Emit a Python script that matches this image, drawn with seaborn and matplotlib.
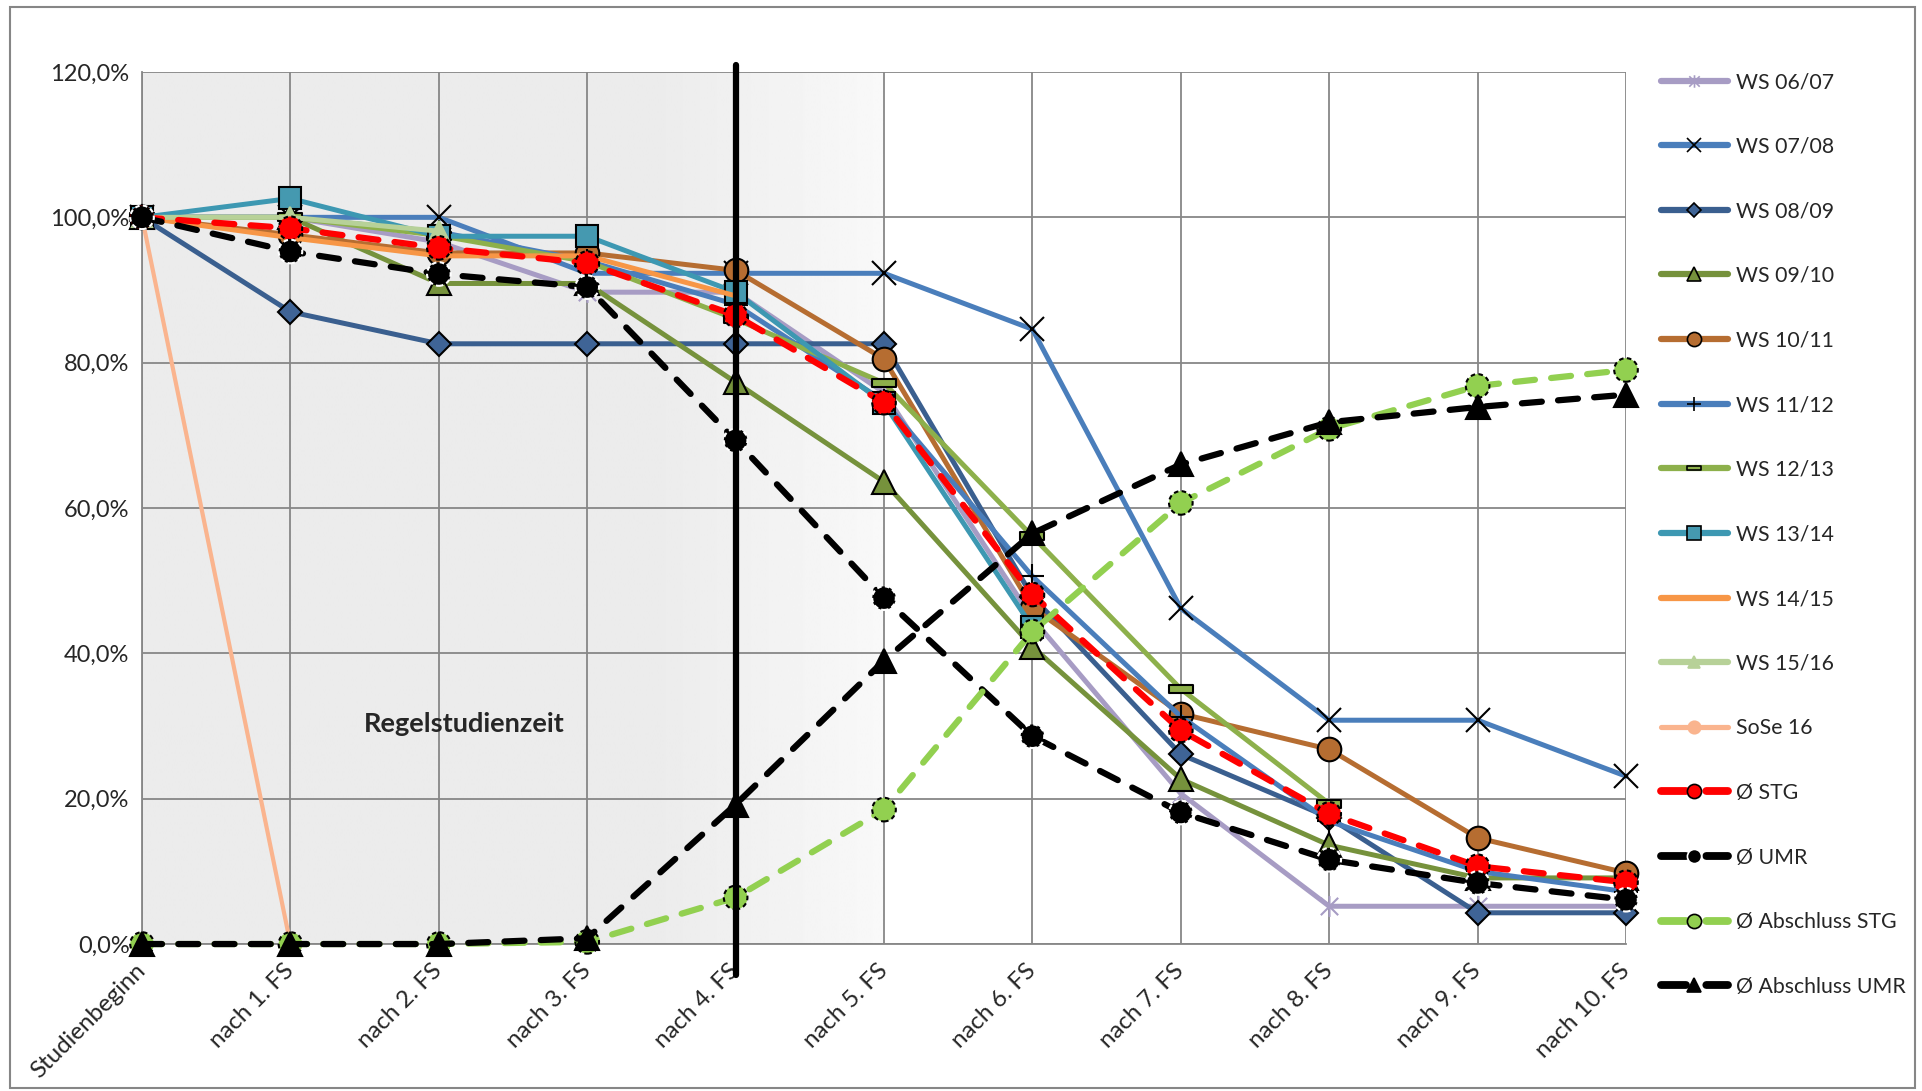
import numpy as np
import matplotlib
matplotlib.use("Agg")
import matplotlib.pyplot as plt
import matplotlib.transforms as mtransforms
from matplotlib.lines import Line2D
from matplotlib.patches import Rectangle
from matplotlib.path import Path
from matplotlib.ticker import FuncFormatter
import seaborn as sns

# ---------------- data (share of students still enrolled, in %) ----------------
categories = ["Studienbeginn", "nach 1. FS", "nach 2. FS", "nach 3. FS", "nach 4. FS",
              "nach 5. FS", "nach 6. FS", "nach 7. FS", "nach 8. FS", "nach 9. FS",
              "nach 10. FS"]

ws_06_07 = [100, 100, 96.6, 89.7, 89.7, 75.9, 44.8, 20.7, 5.2, 5.2, 5.2]
ws_07_08 = [100, 100, 100, 92.3, 92.3, 92.3, 84.6, 46.2, 30.8, 30.8, 23.1]
ws_08_09 = [100, 87.0, 82.6, 82.6, 82.6, 82.6, 47.8, 26.1, 17.4, 4.3, 4.3]
ws_09_10 = [100, 100, 90.9, 90.9, 77.3, 63.6, 40.9, 22.7, 13.6, 9.1, 9.1]
ws_10_11 = [100, 97.6, 95.1, 95.1, 92.7, 80.5, 46.3, 31.7, 26.8, 14.6, 9.8]
ws_11_12 = [100, 100, 98.0, 94.0, 88.0, 74.7, 50.6, 31.3, 16.9, 10.0, 7.2]
ws_12_13 = [100, 100, 97.5, 93.9, 86.0, 77.2, 56.1, 35.1, 19.3]
ws_13_14 = [100, 102.6, 97.4, 97.4, 89.7, 74.4, 43.6]
ws_14_15 = [100, 97.2, 94.7, 94.7, 89.2]
ws_15_16 = [100, 100, 98.1]
sose_16 = [100, 0]
avg_stg = [100, 98.5, 95.8, 93.7, 86.5, 74.5, 48.1, 29.4, 17.9, 10.7, 8.5]
avg_umr = [100, 95.3, 92.2, 90.4, 69.3, 47.6, 28.6, 18.1, 11.6, 8.4, 6.1]
abschluss_stg = [0, 0, 0, 0.3, 6.4, 18.5, 43.0, 60.7, 70.9, 76.8, 79.0]
abschluss_umr = [0, 0, 0, 0.8, 19.2, 39.0, 56.5, 66.0, 71.8, 73.9, 75.6]

series_names = ["WS 06/07", "WS 07/08", "WS 08/09", "WS 09/10", "WS 10/11", "WS 11/12",
                "WS 12/13", "WS 13/14", "WS 14/15", "WS 15/16", "SoSe 16",
                "Ø STG", "Ø UMR", "Ø Abschluss STG", "Ø Abschluss UMR"]
series_values = [ws_06_07, ws_07_08, ws_08_09, ws_09_10, ws_10_11, ws_11_12,
                 ws_12_13, ws_13_14, ws_14_15, ws_15_16, sose_16,
                 avg_stg, avg_umr, abschluss_stg, abschluss_umr]

# custom markers: excel "star" and "dash"
star = Path([(-1, -1), (1, 1), (-1, 1), (1, -1), (0, -1.2), (0, 1.2)],
            [Path.MOVETO, Path.LINETO, Path.MOVETO, Path.LINETO, Path.MOVETO, Path.LINETO])
dash = Path([(-1, -0.3), (1, -0.3), (1, 0.3), (-1, 0.3), (-1, -0.3)],
            [Path.MOVETO, Path.LINETO, Path.LINETO, Path.LINETO, Path.CLOSEPOLY])

DASHED = (0, (3.2, 2.6))
# color, marker, marker face, marker edge, markersize, linestyle, linewidth, dashed marker edge
styles = [
    ("#A79CC4", star, "#A79CC4", "#A79CC4", 15, "-", 3.6, False),
    ("#4A7EBB", "x", "black", "black", 17, "-", 3.6, False),
    ("#3A5F8F", "D", "#3F6496", "black", 12.5, "-", 3.6, False),
    ("#76923C", "^", "#76923C", "black", 17, "-", 3.6, False),
    ("#B66D31", "o", "#B66D31", "black", 17, "-", 3.6, False),
    ("#4A7EBB", "+", "black", "black", 17, "-", 3.6, False),
    ("#8DB04B", dash, "#8DB04B", "black", 17, "-", 3.6, False),
    ("#3D98B2", "s", "#4599B0", "black", 16, "-", 3.6, False),
    ("#F79646", "None", "#F79646", "#F79646", 0, "-", 3.6, False),
    ("#B7D198", "^", "#B7D198", "#B7D198", 15, "-", 3.6, False),
    ("#FAB48E", "o", "#FAB48E", "#FAB48E", 15, "-", 3.0, False),
    ("#FF0000", "o", "#FF0000", "black", 17, DASHED, 4.5, True),
    ("#000000", "o", "#000000", "white", 17, DASHED, 4.5, True),
    ("#92D050", "o", "#92D050", "black", 17, DASHED, 4.5, True),
    ("#000000", "^", "#000000", "black", 17, DASHED, 4.5, False),
]

sns.set_style("white")
plt.rcParams["font.family"] = ["Lato", "DejaVu Sans"]

fig = plt.figure(figsize=(19.22, 10.91), dpi=100)
ax = fig.add_axes([0.0739, 0.1347, 0.7721, 0.7993])

# shaded "Regelstudienzeit" background with fade towards nach 5. FS
xs = np.linspace(0, 5, 501)
shade = np.where(xs < 3.5, 0.925, 0.925 + (xs - 3.5) / 1.5 * 0.05)
ax.imshow(np.tile(shade, (2, 1)), cmap="gray", vmin=0, vmax=1, extent=(0, 5, 0, 120),
          aspect="auto", interpolation="bilinear", zorder=0)

handles = []
for i, (name, vals) in enumerate(zip(series_names, series_values)):
    col, mk, mfc, mec, ms, ls, lw, dashed_edge = styles[i]
    xpos = list(range(len(vals)))
    z = 3 + i * 0.1
    sns.lineplot(x=xpos, y=vals, ax=ax, color=col, linestyle=ls, linewidth=lw,
                 dash_capstyle="round", clip_on=False, legend=False, zorder=z,
                 marker=None if dashed_edge else mk, markersize=ms,
                 markerfacecolor=mfc, markeredgecolor=mec, markeredgewidth=1.5)
    if dashed_edge:
        # averages: markers with a dashed outline
        sns.scatterplot(x=xpos, y=vals, ax=ax, marker=mk, s=ms ** 2, color=mfc,
                        edgecolor=mec, linewidth=1.5, linestyle=(0, (2.2, 1.6)),
                        clip_on=False, legend=False, zorder=z + 0.05)
    handles.append(Line2D([0], [0], color=col, marker=mk, markersize=ms * 0.6,
                          markerfacecolor=mfc, markeredgecolor=mec, markeredgewidth=1.2,
                          linestyle=ls, linewidth=lw * 1.25, dash_capstyle="round"))

# end of Regelstudienzeit
ax.axvline(4, ymin=-0.035, ymax=1.008, color="black", lw=4.5, clip_on=False, zorder=10)
ax.text(2.17, 30.3, "Regelstudienzeit", ha="center", va="center", fontsize=19.5,
        fontweight="bold", zorder=5)

ax.set_xlim(0, 10)
ax.set_ylim(0, 120)
ax.set_xticks(range(len(categories)))
ax.set_xticklabels(categories, rotation=45, ha="right", va="center",
                   rotation_mode="anchor", fontsize=17.3)
shift = mtransforms.ScaledTranslation(5 / 100, 0, fig.dpi_scale_trans)
for lab in ax.get_xticklabels():
    lab.set_transform(lab.get_transform() + shift)
ax.set_yticks(range(0, 121, 20))
ax.yaxis.set_major_formatter(FuncFormatter(lambda v, p: f"{v:.1f}".replace(".", ",") + "%"))
ax.tick_params(axis="y", labelsize=17, length=5, width=1.3, color="#878787", pad=4)
ax.tick_params(axis="x", length=6, width=1.3, color="#878787", pad=11)
ax.grid(True, color="#878787", lw=1.3)
ax.set_axisbelow(True)
for side in ["top", "right"]:
    ax.spines[side].set_visible(False)
for side in ["left", "bottom"]:
    ax.spines[side].set_color("#878787")
    ax.spines[side].set_linewidth(1.3)

fig.legend(handles, series_names, loc="upper left", bbox_to_anchor=(0.864, 0.934),
           frameon=False, fontsize=15.3, labelspacing=2.10, handlelength=3.15,
           handletextpad=0.42, borderpad=0, borderaxespad=0)

# chart area border
fig.patches.append(Rectangle((0.0052, 0.0027), 0.9912, 0.9909, transform=fig.transFigure,
                             fill=False, edgecolor="#868686", lw=1.5))

fig.savefig("out.png", dpi=100)
